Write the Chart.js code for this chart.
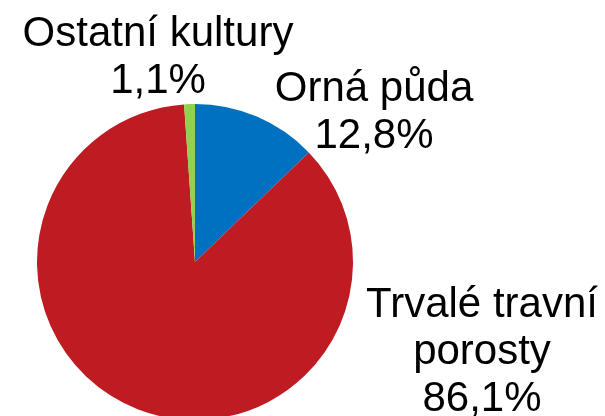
<!DOCTYPE html>
<html>
<head>
<meta charset="utf-8">
<script src="https://cdn.jsdelivr.net/npm/chart.js@4"></script>
<style>
  html, body { margin: 0; padding: 0; background: #fff; overflow: hidden; }
  #wrap { position: absolute; left: 0; top: 0; width: 605px; height: 424px; }
</style>
</head>
<body>
<div id="wrap"><canvas id="graf"></canvas></div>
<script>
// podíl kultur (%)
const kategorie = ['Orná půda', 'Trvalé travní porosty', 'Ostatní kultury'];
const hodnoty = [12.8, 86.1, 1.1];
const barvy = ['#0070C0', '#BE1B22', '#92D050'];
// jak se popisky lámou do řádků
const radkyPopisku = [['Orná půda'], ['Trvalé travní', 'porosty'], ['Ostatní kultury']];
// kam popisky umístit (střed x, účaří prvního řádku)
const poziceX = [374, 482, 158];
const poziceY = [101, 317, 46];

const popisky = {
    id: 'popisky',
    afterDraw(chart) {
        const ctx = chart.ctx;
        const radek = 47;
        ctx.save();
        ctx.font = '42px "Liberation Sans", Arial, sans-serif';
        ctx.fillStyle = '#000';
        ctx.textAlign = 'center';
        ctx.textBaseline = 'alphabetic';
        kategorie.forEach((k, i) => {
            const lines = radkyPopisku[i].concat([hodnoty[i].toFixed(1).replace('.', ',') + '%']);
            lines.forEach((t, j) => {
                ctx.fillText(t, poziceX[i], poziceY[i] + j * radek);
            });
        });
        ctx.restore();
    }
};

new Chart('graf', {
    type: 'pie',
    data: {
        labels: kategorie,
        datasets: [{
            data: hodnoty,
            backgroundColor: barvy,
            borderWidth: 0
        }]
    },
    options: {
        responsive: true,
        maintainAspectRatio: false,
        animation: false,
        layout: {
            padding: { left: 37, right: 252, top: 104, bottom: 4 }
        },
        plugins: {
            legend: { display: false },
            tooltip: { enabled: false }
        }
    },
    plugins: [popisky]
});
</script>
</body>
</html>
